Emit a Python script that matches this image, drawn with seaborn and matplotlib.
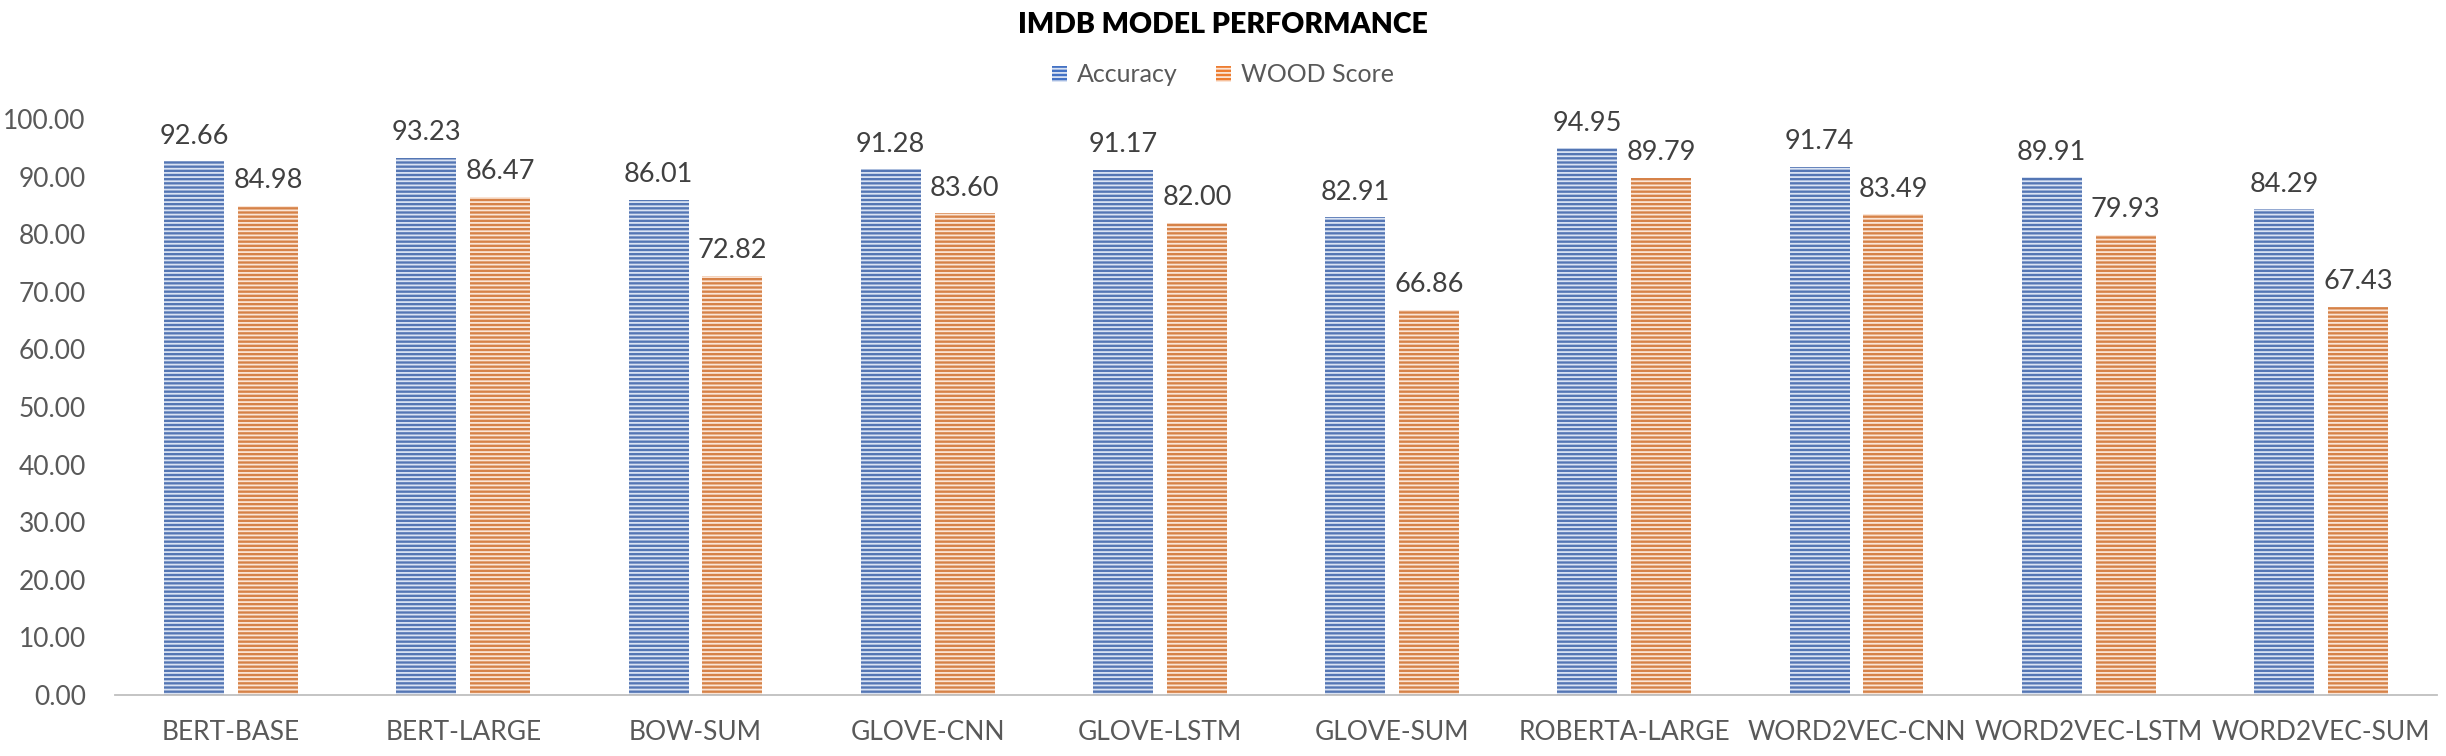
import pandas as pd
import numpy as np
import matplotlib
matplotlib.use("Agg")
import matplotlib.pyplot as plt
import seaborn as sns
from matplotlib.patches import Patch

# dati
models = ["BERT-BASE", "BERT-LARGE", "BOW-SUM", "GLOVE-CNN", "GLOVE-LSTM",
          "GLOVE-SUM", "ROBERTA-LARGE", "WORD2VEC-CNN", "WORD2VEC-LSTM", "WORD2VEC-SUM"]
accuracy = [92.66, 93.23, 86.01, 91.28, 91.17, 82.91, 94.95, 91.74, 89.91, 84.29]
wood_score = [84.98, 86.47, 72.82, 83.60, 82.00, 66.86, 89.79, 83.49, 79.93, 67.43]
series = ["Accuracy", "WOOD Score"]
colors = ["#4472C4", "#ED7D31"]
stripe_colors = ["#DAE3F3", "#FBE5D6"]
y_ticks = [0, 10, 20, 30, 40, 50, 60, 70, 80, 90, 100]

df = pd.DataFrame({
    "model": models * 2,
    "value": accuracy + wood_score,
    "metric": [series[0]] * len(models) + [series[1]] * len(models),
})

sns.set_style("white")
plt.rcParams["font.family"] = ["Lato", "DejaVu Sans"]
plt.rcParams["hatch.linewidth"] = 1.3

fig = plt.figure(figsize=(24.46, 7.56), dpi=100)
ax = fig.add_axes([115 / 2446, 61 / 756, 2322 / 2446, 576 / 756])

sns.barplot(data=df, x="model", y="value", hue="metric", palette=colors,
            width=0.637, ax=ax, legend=False, errorbar=None)

# larghezza delle barre come nel grafico originale (centri lasciati a seaborn)
bar_w = 60 / 232.2
for i, cont in enumerate(ax.containers):
    for bar in cont:
        cx = bar.get_x() + bar.get_width() / 2
        bar.set_width(bar_w)
        bar.set_x(cx - bar_w / 2)
        bar.set_hatch("----")
        bar.set_edgecolor(stripe_colors[i])
        bar.set_linewidth(0)
    ax.bar_label(cont, fmt="{:.2f}", padding=9, fontsize=19.5, color="#404040")

ax.set_xlim(-0.5, len(models) - 0.5)
ax.set_ylim(0, 100)
ax.set_yticks(y_ticks)
ax.set_yticklabels([f"{t:.2f}" for t in y_ticks])
ax.set_xlabel("")
ax.set_ylabel("")
ax.tick_params(axis="y", length=0, pad=21, labelsize=19, labelcolor="#595959")
ax.tick_params(axis="x", length=0, pad=18, labelsize=19, labelcolor="#595959")

for s in ["top", "left", "right"]:
    ax.spines[s].set_visible(False)
ax.spines["bottom"].set_color("#BFBFBF")
ax.spines["bottom"].set_linewidth(1.3)

# legenda
handles = [Patch(facecolor=c, edgecolor=sc, linewidth=0, hatch="----")
           for c, sc in zip(colors, stripe_colors)]
leg = fig.legend(handles, series, loc="center", bbox_to_anchor=(0.5, 1 - 75 / 756),
                 ncol=2, frameon=False, fontsize=18, handlelength=0.6, handleheight=0.6,
                 handletextpad=0.4, columnspacing=1.5)
for t in leg.get_texts():
    t.set_color("#595959")

fig.text(0.5, 1 - 25 / 756, "IMDB MODEL PERFORMANCE", ha="center", va="center",
         fontsize=20.5, fontweight="heavy", color="black")

fig.savefig("out.png", dpi=100)
